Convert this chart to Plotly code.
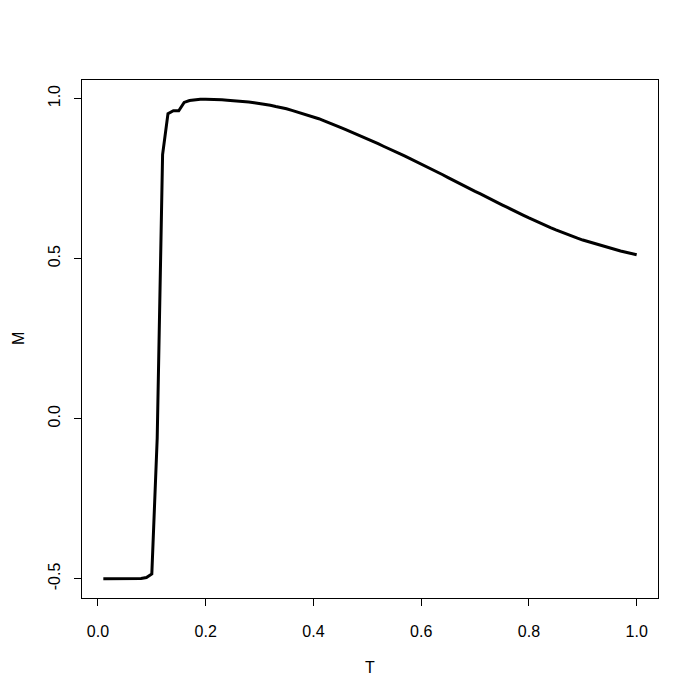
import plotly.graph_objects as go

T = [round(0.01 * i, 2) for i in range(1, 101)]
M = [
    -0.500, -0.500, -0.500, -0.500, -0.500, -0.500, -0.500, -0.499, -0.496, -0.485,
    -0.060, 0.825, 0.953, 0.962, 0.962, 0.988, 0.994, 0.997, 0.998, 0.998,
    0.998, 0.997, 0.996, 0.995, 0.994, 0.993, 0.991, 0.989, 0.987, 0.985,
    0.982, 0.979, 0.975, 0.972, 0.968, 0.963, 0.958, 0.953, 0.948, 0.943,
    0.937, 0.930, 0.924, 0.917, 0.910, 0.903, 0.896, 0.889, 0.881, 0.874,
    0.866, 0.859, 0.851, 0.844, 0.836, 0.828, 0.820, 0.812, 0.804, 0.796,
    0.787, 0.779, 0.770, 0.762, 0.753, 0.744, 0.736, 0.727, 0.719, 0.710,
    0.702, 0.693, 0.685, 0.676, 0.668, 0.660, 0.651, 0.643, 0.635, 0.627,
    0.619, 0.612, 0.604, 0.597, 0.590, 0.583, 0.577, 0.570, 0.564, 0.558,
    0.553, 0.547, 0.542, 0.537, 0.532, 0.528, 0.524, 0.520, 0.516, 0.512,
]
x_ticks = [0.0, 0.2, 0.4, 0.6, 0.8, 1.0]
x_tick_labels = ["0.0", "0.2", "0.4", "0.6", "0.8", "1.0"]
y_ticks = [-0.5, 0.0, 0.5, 1.0]
y_tick_labels = ["-0.5", "0.0", "0.5", "1.0"]

def r_range(vals):
    lo, hi = min(vals), max(vals)
    ext = (hi - lo) * 0.04
    return [lo - ext, hi + ext]

font = dict(family="Liberation Sans, Arial, Helvetica, sans-serif", size=16, color="black")

fig = go.Figure(go.Scatter(x=T, y=M, mode="lines",
                           line=dict(color="black", width=3), hoverinfo="skip"))

fig.update_layout(
    width=692, height=692,
    margin=dict(l=74, r=42, t=72, b=102),
    paper_bgcolor="white", plot_bgcolor="white",
    showlegend=False, font=font,
    xaxis=dict(range=r_range(T), tickvals=x_ticks, ticktext=x_tick_labels,
               ticks="outside", ticklen=7, tickcolor="black", tickwidth=1,
               showline=True, linecolor="black", linewidth=1, mirror=True,
               showgrid=False, zeroline=False, ticklabelstandoff=12,
               tickfont=font),
    yaxis=dict(range=r_range(M), tickvals=y_ticks, ticktext=y_tick_labels,
               ticks="outside", ticklen=7, tickcolor="black", tickwidth=1,
               showline=True, linecolor="black", linewidth=1, mirror=True,
               showgrid=False, zeroline=False, tickangle=-90,
               ticklabelstandoff=8, tickfont=font),
    annotations=[
        dict(text="T", xref="paper", yref="paper", x=0.5, y=0, yshift=-69,
             showarrow=False, xanchor="center", yanchor="middle", font=font),
        dict(text="M", xref="paper", yref="paper", x=0, y=0.5, xshift=-64,
             showarrow=False, xanchor="center", yanchor="middle",
             textangle=-90, font=font),
    ],
)

fig.write_html("out.html")
